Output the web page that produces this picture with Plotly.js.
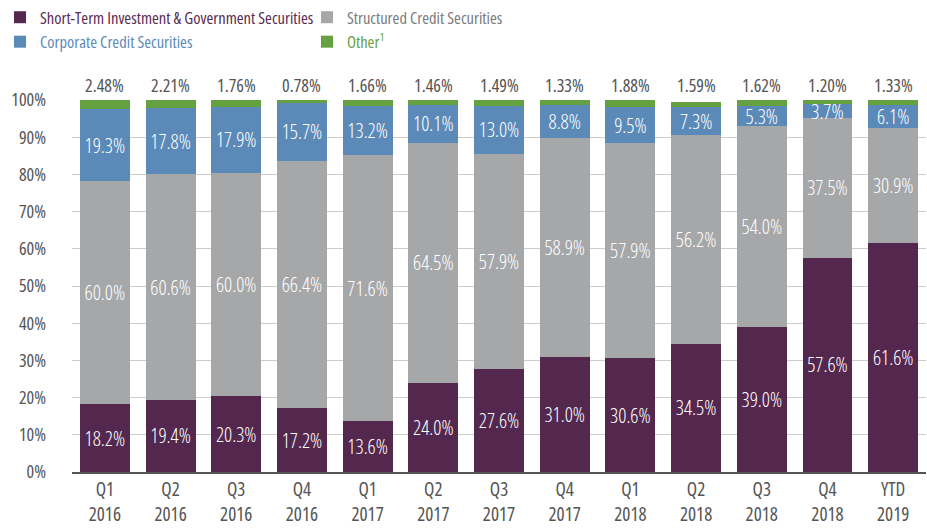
<!DOCTYPE html>
<html>
<head>
<meta charset="utf-8">
<script src="https://cdn.plot.ly/plotly-3.0.1.min.js"></script>
<style>html,body{margin:0;padding:0;background:#fff;}#chart{width:927px;height:529px;}
svg text{font-stretch:75%;}
svg .ytick text{font-stretch:82%;}
svg .annotation-text{font-stretch:85%;}
</style>
</head>
<body>
<div id="chart"></div>
<script>
const categories = ['Q1<br>2016','Q2<br>2016','Q3<br>2016','Q4<br>2016','Q1<br>2017','Q2<br>2017','Q3<br>2017','Q4<br>2017','Q1<br>2018','Q2<br>2018','Q3<br>2018','Q4<br>2018','YTD<br>2019'];
const shortTerm = [18.2,19.4,20.3,17.2,13.6,24.0,27.6,31.0,30.6,34.5,39.0,57.6,61.6];
const structured = [60.0,60.6,60.0,66.4,71.6,64.5,57.9,58.9,57.9,56.2,54.0,37.5,30.9];
const corporate = [19.3,17.8,17.9,15.7,13.2,10.1,13.0,8.8,9.5,7.3,5.3,3.7,6.1];
const other = [2.48,2.21,1.76,0.78,1.66,1.46,1.49,1.33,1.88,1.59,1.62,1.20,1.33];
const yTicks = [0,10,20,30,40,50,60,70,80,90,100];

const FONT = '"Open Sans", "Roboto", sans-serif';
const C = {purple:'#54284e', gray:'#a6a7a9', blue:'#5b8ab8', green:'#65a041'};

function barTrace(name, vals, color, legendColor, withText){
  return {
    type:'bar', x:categories, y:vals, name:'<span style="color:'+legendColor+'">'+name+'</span>',
    marker:{color:color, line:{width:0}},
    text: withText ? vals.map(v=>v.toFixed(1)+'%') : undefined,
    textposition: withText ? 'inside' : 'none',
    insidetextanchor:'middle',
    textangle:0,
    constraintext:'none',
    textfont:{family:FONT, size:20, color:'#ffffff', weight:350},
    hoverinfo:'skip'
  };
}

const data = [
  barTrace('Short-Term Investment &amp; Government Securities', shortTerm, C.purple, '#5a2a52', true),
  barTrace('Structured Credit Securities', structured, C.gray, '#7a7a7a', true),
  barTrace('Corporate Credit Securities', corporate, C.blue, '#5b8ab8', true),
  barTrace('Other<sup>1</sup>', other, C.green, '#65a041', false)
];

const annotations = categories.map((c,i)=>({
  x:c, y:100, xref:'x', yref:'y', yanchor:'bottom', yshift:1,
  text: other[i].toFixed(2)+'%', showarrow:false,
  font:{family:FONT, size:18, color:'#555555'}
}));

const layout = {
  width:927, height:529,
  margin:{l:72, r:1, t:100, b:57},
  barmode:'stack', bargap:0.24,
  paper_bgcolor:'#ffffff', plot_bgcolor:'#ffffff',
  font:{family:FONT, size:18, color:'#555555'},
  showlegend:true,
  legend:{orientation:'h', x:-0.011, xref:'container', y:1.0, yref:'container', xanchor:'left', yanchor:'top',
          entrywidth:262, entrywidthmode:'pixels', traceorder:'normal',
          font:{family:FONT, size:16.5}, itemwidth:30, tracegroupgap:0},
  xaxis:{type:'category', tickfont:{family:FONT, size:19, color:'#555555'}, showgrid:false,
         showline:true, linecolor:'#555555', linewidth:1.5, ticks:'', fixedrange:true},
  yaxis:{range:[0,100], tickvals:yTicks, ticktext:yTicks.map(v=>v+'%'), showgrid:true, gridcolor:'#cccccc', gridwidth:1,
         zeroline:false, tickfont:{family:FONT, size:18, color:'#555555'}, ticks:'', ticklen:0, ticklabelstandoff:25, fixedrange:true},
  annotations: annotations
};

Plotly.newPlot('chart', data, layout, {displayModeBar:false, staticPlot:true});
</script>
</body>
</html>
